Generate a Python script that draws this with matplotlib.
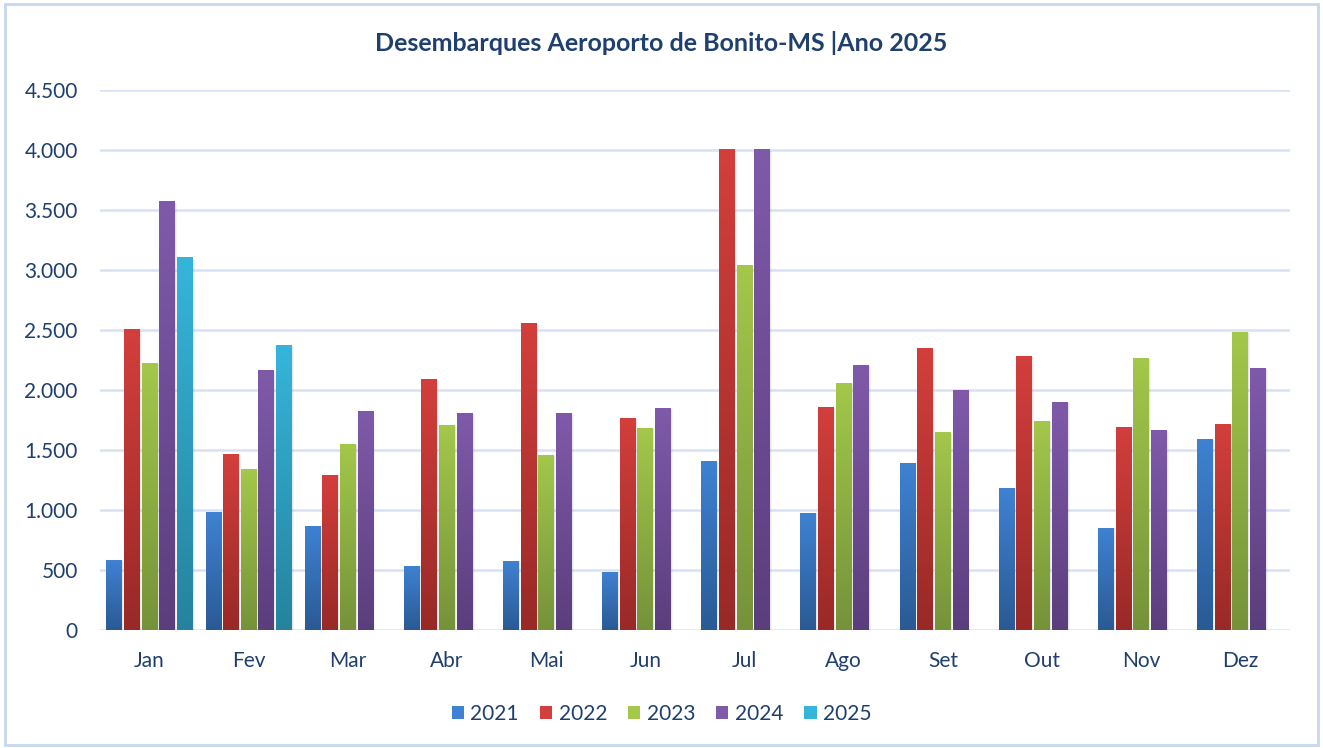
import matplotlib.pyplot as plt
import numpy as np
from matplotlib.patches import Rectangle
from matplotlib.ticker import FuncFormatter, MultipleLocator
from matplotlib.colors import LinearSegmentedColormap

plt.rcParams['font.family'] = ['Lato', 'DejaVu Sans']

meses = ['Jan', 'Fev', 'Mar', 'Abr', 'Mai', 'Jun', 'Jul', 'Ago', 'Set', 'Out', 'Nov', 'Dez']
anos = ['2021', '2022', '2023', '2024', '2025']

v2021 = [580, 980, 870, 535, 578, 485, 1405, 978, 1395, 1185, 852, 1595]
v2022 = [2508, 1465, 1295, 2095, 2562, 1770, 4008, 1862, 2352, 2285, 1695, 1718]
v2023 = [2225, 1340, 1552, 1710, 1460, 1686, 3042, 2062, 1652, 1745, 2270, 2485]
v2024 = [3575, 2165, 1828, 1812, 1812, 1853, 4008, 2212, 2003, 1903, 1668, 2185]
v2025 = [3108, 2375]

series = [v2021, v2022, v2023, v2024, v2025]
# (top, bottom) colours of the gradient
cores = [('#3f82d2', '#2a5a94'),
         ('#d33f3c', '#982927'),
         ('#a3c84a', '#75923a'),
         ('#7f5aaa', '#5b3e7c'),
         ('#36b5db', '#25839d')]

azul = '#1f3f6e'
grade = '#d6e2f3'

fig = plt.figure(figsize=(13.23, 7.48), dpi=100)
ax = fig.add_axes([0.0756, 0.1578, 0.8994, 0.7219])

slot = 0.178
largura = 0.16
x = np.arange(len(meses))

for k, vals in enumerate(series):
    cmap = LinearSegmentedColormap.from_list('g%d' % k, [cores[k][1], cores[k][0]])
    grad = np.linspace(0, 1, 256).reshape(-1, 1)
    for i, v in enumerate(vals):
        xc = x[i] + (k - 2) * slot
        # soft shadow
        for d, a in [(0.01, 0.10), (0.02, 0.06)]:
            ax.add_patch(Rectangle((xc - largura / 2 + d, 0), largura, v * 0.995,
                                   facecolor='#606060', alpha=a, lw=0, zorder=2))
        r = Rectangle((xc - largura / 2, 0), largura, v, facecolor='none', lw=0, zorder=3)
        ax.add_patch(r)
        im = ax.imshow(grad, cmap=cmap, origin='lower', aspect='auto',
                       extent=(xc - largura / 2, xc + largura / 2, 0, v), zorder=3)
        im.set_clip_path(r)

ax.set_xlim(-0.5, 11.5)
ax.set_ylim(0, 4500)
ax.yaxis.set_major_locator(MultipleLocator(500))
ax.yaxis.set_major_formatter(FuncFormatter(lambda v, p: f'{int(v):,}'.replace(',', '.')))
ax.set_xticks(x)
ax.set_xticklabels(meses)
ax.tick_params(axis='both', length=0, labelsize=15, labelcolor=azul)
ax.tick_params(axis='x', pad=15)
ax.tick_params(axis='y', pad=16)
ax.grid(axis='y', color=grade, lw=1.8, zorder=0)
ax.set_axisbelow(True)
for s in ax.spines.values():
    s.set_visible(False)

fig.text(0.5, 0.942, 'Desembarques Aeroporto de Bonito-MS |Ano 2025', ha='center', va='center',
         fontsize=18, fontweight='bold', color=azul)

handles = [Rectangle((0, 0), 1, 1, facecolor=c[0]) for c in cores]
fig.legend(handles, anos, loc='center', bbox_to_anchor=(0.5, 0.046), ncol=5, frameon=False,
           fontsize=15, labelcolor=azul, handlelength=0.6, handleheight=0.6,
           handletextpad=0.3, columnspacing=1.0)

fig.patches.append(Rectangle((0.004, 0.004), 0.992, 0.99, transform=fig.transFigure,
                             fill=False, edgecolor='#c6d7ef', lw=2))

fig.savefig('out.png', dpi=100)
